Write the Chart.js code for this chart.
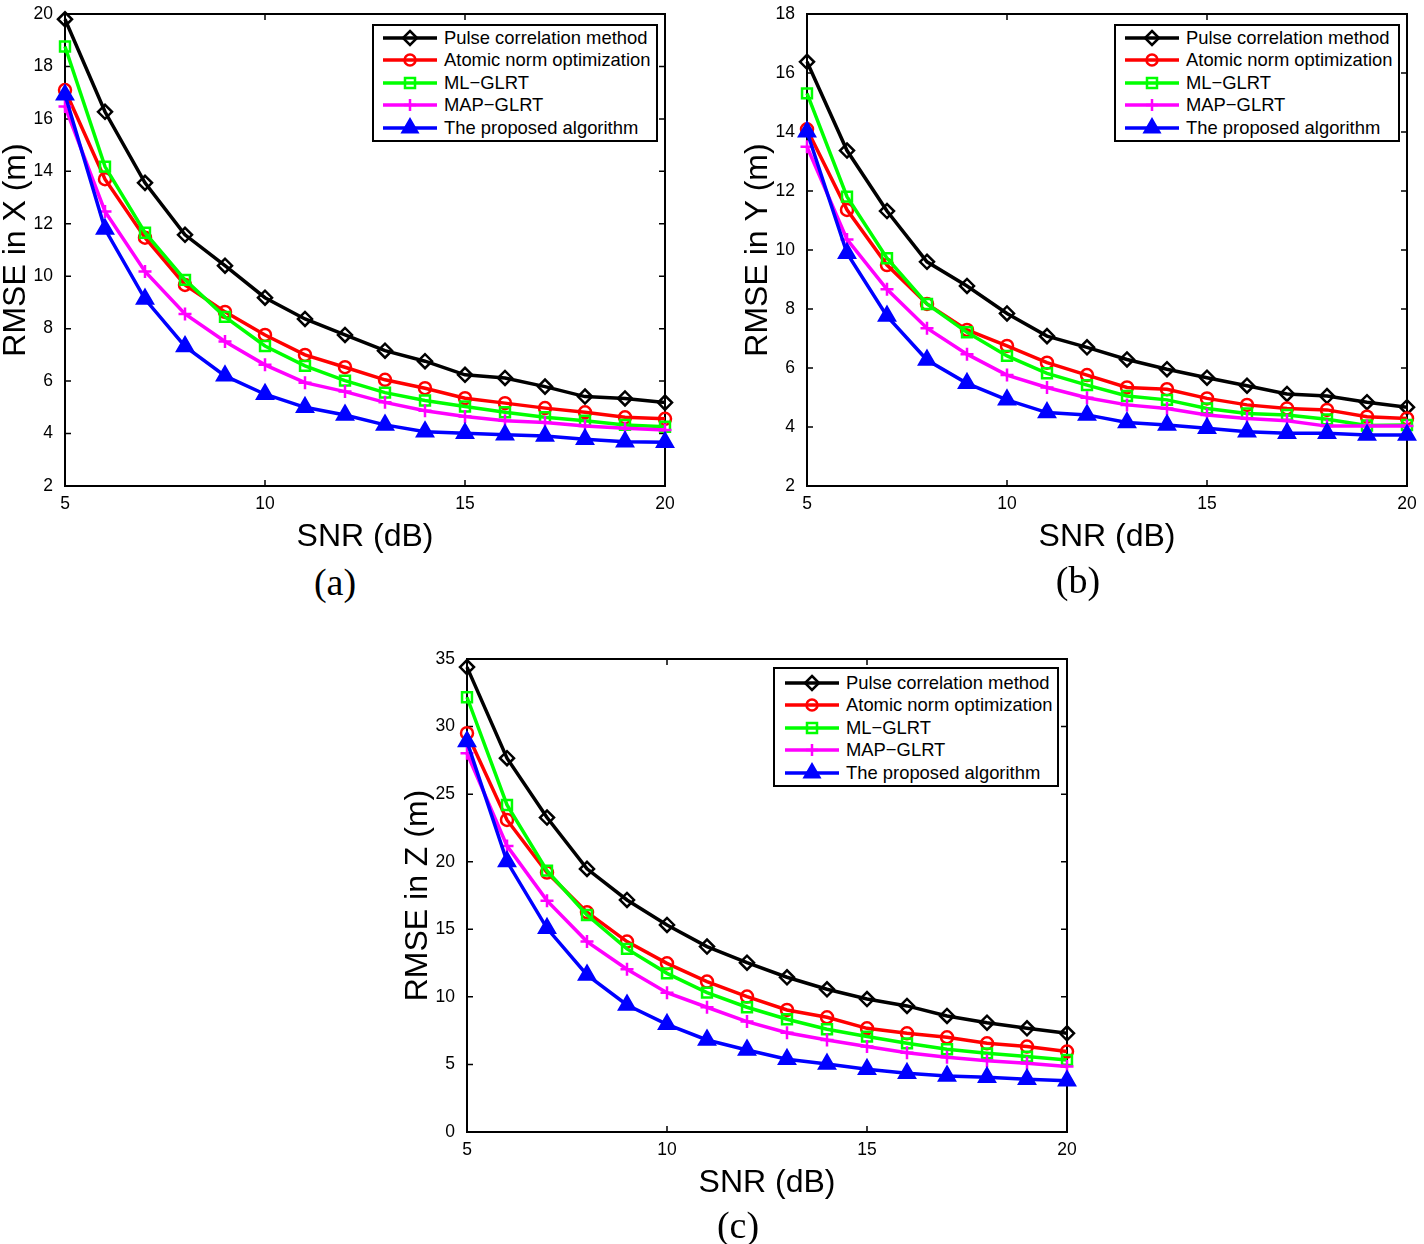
<!DOCTYPE html>
<html><head><meta charset="utf-8">
<script src="https://cdn.jsdelivr.net/npm/chart.js@4.4.1/dist/chart.umd.min.js"></script>
<style>
html,body{margin:0;padding:0;background:#fff;width:1424px;height:1244px;overflow:hidden;position:relative;font-family:"Liberation Sans",Arial,sans-serif}
canvas{position:absolute}
.legend{position:absolute;border:2px solid #000;background:#fff;box-sizing:border-box}
.row{position:absolute;left:0;height:22px;white-space:nowrap}
.row svg{position:absolute;top:0}
.row span{position:absolute;top:0;line-height:22px;font-size:18.4px;color:#000}
.cap{position:absolute;font-family:"Liberation Serif","Times New Roman",serif;font-size:38px;color:#000;transform:translate(-50%,-50%);line-height:1}
</style>
</head><body>
<canvas id="ca"></canvas>
<canvas id="cb"></canvas>
<canvas id="cc"></canvas>
<div class="cap" style="left:335px;top:582px">(a)</div>
<div class="cap" style="left:1078px;top:580px">(b)</div>
<div class="cap" style="left:738px;top:1225px">(c)</div>
<script>
// ---- data ----
const snr = [5,6,7,8,9,10,11,12,13,14,15,16,17,18,19,20];
const seriesNames = ['Pulse correlation method','Atomic norm optimization','ML\u2212GLRT','MAP\u2212GLRT','The proposed algorithm'];

const xPulse  = [19.8,16.27,13.56,11.58,10.4,9.18,8.37,7.76,7.16,6.76,6.24,6.12,5.79,5.41,5.34,5.18];
const xAtomic = [17.1,13.7,11.47,9.67,8.64,7.76,7.0,6.53,6.05,5.73,5.35,5.16,4.97,4.81,4.62,4.56];
const xML     = [18.76,14.18,11.66,9.86,8.45,7.34,6.58,6.02,5.56,5.26,5.03,4.81,4.62,4.49,4.33,4.26];
const xMAP    = [16.47,12.47,10.18,8.56,7.51,6.62,5.94,5.6,5.19,4.87,4.65,4.49,4.42,4.29,4.2,4.14];
const xProp   = [16.92,11.8,9.13,7.32,6.2,5.5,5.0,4.71,4.33,4.07,4.01,3.95,3.91,3.78,3.69,3.67];

const yPulse  = [16.38,13.37,11.32,9.6,8.78,7.85,7.08,6.7,6.29,5.96,5.67,5.4,5.12,5.05,4.84,4.67];
const yAtomic = [14.09,11.36,9.49,8.17,7.29,6.75,6.18,5.76,5.34,5.28,4.97,4.75,4.63,4.58,4.35,4.29];
const yML     = [15.31,11.81,9.72,8.17,7.21,6.41,5.82,5.42,5.05,4.92,4.63,4.46,4.41,4.26,4.05,4.07];
const yMAP    = [13.5,10.36,8.67,7.35,6.47,5.76,5.34,4.99,4.75,4.63,4.41,4.29,4.21,4.03,4.03,4.03];
const yProp   = [14.01,9.89,7.76,6.27,5.48,4.92,4.49,4.41,4.15,4.07,3.96,3.84,3.79,3.79,3.73,3.73];

const zPulse  = [34.4,27.66,23.27,19.47,17.17,15.32,13.72,12.53,11.45,10.56,9.84,9.33,8.59,8.09,7.67,7.3];
const zAtomic = [29.51,23.09,19.2,16.26,14.09,12.48,11.13,10.02,9.03,8.49,7.67,7.3,7.01,6.56,6.32,5.95];
const zML     = [32.17,24.2,19.34,16.06,13.55,11.74,10.31,9.23,8.34,7.6,7.06,6.56,6.12,5.82,5.58,5.33];
const zMAP    = [28.03,21.17,17.12,14.09,12.04,10.31,9.23,8.17,7.35,6.81,6.32,5.87,5.53,5.28,5.08,4.84];
const zProp   = [28.89,20.01,15.07,11.62,9.4,7.97,6.81,6.07,5.38,5.03,4.64,4.34,4.15,4.05,3.9,3.8];

const xTicks = [5,10,15,20];
const yTicksA = [2,4,6,8,10,12,14,16,18,20];
const yTicksB = [2,4,6,8,10,12,14,16,18];
const yTicksC = [0,5,10,15,20,25,30,35];

// ---- styles ----
const colors = ['#000000','#ff0000','#00ff00','#ff00ff','#0000ff'];
const pStyles = ['rectRot','circle','rect','cross','triangle'];
const pRadius = [7,6,7,6.5,9];
const pFill = ['rgba(0,0,0,0)','rgba(0,0,0,0)','rgba(0,0,0,0)','rgba(0,0,0,0)','#0000ff'];

Chart.defaults.font.family = '"Liberation Sans", Arial, sans-serif';

const boxPlugin = {
  id: 'box',
  beforeDatasetsDraw(chart) {
    const {ctx, chartArea: a, scales: {x, y}} = chart;
    ctx.save();
    ctx.strokeStyle = '#000';
    ctx.lineWidth = 2;
    ctx.strokeRect(a.left, a.top, a.right - a.left, a.bottom - a.top);
    ctx.lineWidth = 1.5;
    ctx.beginPath();
    x.ticks.forEach(t => {
      const p = x.getPixelForValue(t.value);
      ctx.moveTo(p, a.bottom); ctx.lineTo(p, a.bottom - 6);
      ctx.moveTo(p, a.top); ctx.lineTo(p, a.top + 6);
    });
    y.ticks.forEach(t => {
      const p = y.getPixelForValue(t.value);
      ctx.moveTo(a.left, p); ctx.lineTo(a.left + 6, p);
      ctx.moveTo(a.right, p); ctx.lineTo(a.right - 6, p);
    });
    ctx.stroke();
    ctx.restore();
  }
};

function makeChart(id, area, padRight, series, yTicks, yTitle) {
  const cv = document.getElementById(id);
  const yW = 65, xH = 74, padTop = 14;
  cv.style.left = (area.left - yW) + 'px';
  cv.style.top = (area.top - padTop) + 'px';
  cv.width = yW + area.width + padRight;
  cv.height = padTop + area.height + xH;
  const datasets = series.map((arr, i) => ({
    label: seriesNames[i],
    data: snr.map((s, j) => ({x: s, y: arr[j]})),
    borderColor: colors[i],
    backgroundColor: colors[i],
    borderWidth: 3.5,
    pointStyle: pStyles[i],
    pointRadius: pRadius[i],
    pointBorderWidth: 2.5,
    pointBorderColor: colors[i],
    pointBackgroundColor: pFill[i],
    tension: 0,
    clip: false,
    order: 4 - i
  }));
  return new Chart(cv, {
    type: 'line',
    data: {datasets},
    plugins: [boxPlugin],
    options: {
      responsive: false,
      animation: false,
      devicePixelRatio: 1,
      layout: {padding: {top: padTop, right: padRight, left: 0, bottom: 0}},
      plugins: {legend: {display: false}, tooltip: {enabled: false}},
      scales: {
        x: {
          type: 'linear', min: 5, max: 20,
          grid: {display: false}, border: {display: false},
          afterBuildTicks: s => { s.ticks = xTicks.map(v => ({value: v})); },
          afterFit: s => { s.height = xH; s.paddingLeft = 0; s.paddingRight = 0; },
          ticks: {font: {size: 17.5}, color: '#000', padding: 0, maxRotation: 0},
          title: {display: true, text: 'SNR (dB)', color: '#000', font: {size: 32, lineHeight: 1}, padding: {top: 0, bottom: 7}}
        },
        y: {
          type: 'linear', min: yTicks[0], max: yTicks[yTicks.length - 1],
          grid: {display: false}, border: {display: false},
          afterBuildTicks: s => { s.ticks = yTicks.map(v => ({value: v})); },
          afterFit: s => { s.width = yW; s.paddingTop = 0; s.paddingBottom = 0; },
          ticks: {font: {size: 17.5}, color: '#000', padding: 4},
          title: {display: true, text: yTitle, color: '#000', font: {size: 32, lineHeight: 1}, padding: {top: 0, bottom: 0}}
        }
      }
    }
  });
}

makeChart('ca', {left: 65, top: 14, width: 600, height: 472}, 35,
  [xPulse, xAtomic, xML, xMAP, xProp], yTicksA, 'RMSE in X (m)');
makeChart('cb', {left: 807, top: 14, width: 600, height: 472}, 17,
  [yPulse, yAtomic, yML, yMAP, yProp], yTicksB, 'RMSE in Y (m)');
makeChart('cc', {left: 467, top: 659, width: 600, height: 473}, 35,
  [zPulse, zAtomic, zML, zMAP, zProp], yTicksC, 'RMSE in Z (m)');

// ---- legends (HTML) ----
function markerSvg(i) {
  const c = colors[i], cx = 27, cy = 11;
  let m = '';
  if (i === 0) m = `<polygon points="${cx},${cy-7} ${cx+7},${cy} ${cx},${cy+7} ${cx-7},${cy}" fill="none" stroke="${c}" stroke-width="2.5"/>`;
  if (i === 1) m = `<circle cx="${cx}" cy="${cy}" r="5.5" fill="none" stroke="${c}" stroke-width="2.5"/>`;
  if (i === 2) m = `<rect x="${cx-5}" y="${cy-5}" width="10" height="10" fill="none" stroke="${c}" stroke-width="2.5"/>`;
  if (i === 3) m = `<path d="M${cx-6},${cy}H${cx+6}M${cx},${cy-6}V${cy+6}" stroke="${c}" stroke-width="2.5"/>`;
  if (i === 4) m = `<polygon points="${cx},${cy-9} ${cx+7.8},${cy+4.5} ${cx-7.8},${cy+4.5}" fill="${c}" stroke="${c}" stroke-width="2"/>`;
  return `<svg width="56" height="22"><line x1="0" y1="11" x2="54" y2="11" stroke="${c}" stroke-width="3.5"/>${m}</svg>`;
}
function makeLegend(box, firstRow, lineLeft, textLeft) {
  const d = document.createElement('div');
  d.className = 'legend';
  Object.assign(d.style, {left: box.left + 'px', top: box.top + 'px', width: box.w + 'px', height: box.h + 'px'});
  seriesNames.forEach((n, i) => {
    const r = document.createElement('div');
    r.className = 'row';
    r.style.top = (firstRow - 11 - 2 + i * 22.5) + 'px';
    r.innerHTML = markerSvg(i).replace('<svg', `<svg style="left:${lineLeft - 2}px"`) +
      `<span style="left:${textLeft - 2}px">${n}</span>`;
    d.appendChild(r);
  });
  document.body.appendChild(d);
}
makeLegend({left: 372, top: 24, w: 286, h: 118}, 13.5, 11, 72);
makeLegend({left: 1114, top: 24, w: 286, h: 118}, 13.5, 11, 72);
makeLegend({left: 773, top: 667, w: 286, h: 120}, 15.5, 12, 73);
</script>
</body></html>
